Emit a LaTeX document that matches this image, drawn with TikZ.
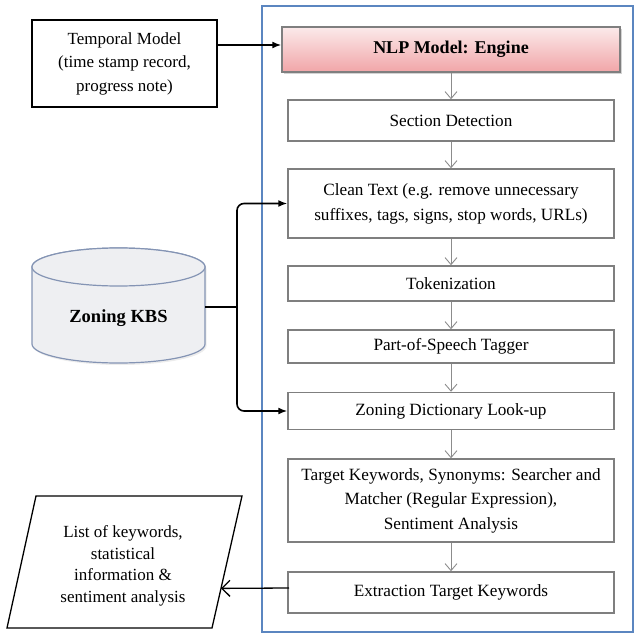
\documentclass[tikz,border=0pt]{standalone}
\usepackage{fontspec}
\setmainfont{Liberation Serif}
\usetikzlibrary{arrows.meta,shadows,calc}
\definecolor{boxgray}{HTML}{7F7F7F}
\definecolor{arrgray}{HTML}{8C8C8C}
\definecolor{frameblue}{HTML}{5B86C0}
\definecolor{pinktop}{HTML}{FBEAEA}
\definecolor{pinkbot}{HTML}{F1A5A8}
\definecolor{kbsfill}{HTML}{EEEFF2}
\definecolor{kbsdraw}{HTML}{8494B4}
\tikzset{
  stepbox/.style={draw=boxgray, line width=1.5pt, fill=white, minimum width=326pt, align=center, inner sep=2pt,
    font=\fontsize{17.2}{24.5}\selectfont},
  grayarr/.style={draw=arrgray, line width=0.9pt, -{Straight Barb[length=7pt,width=12pt]}},
  blkarr/.style={draw=black, line width=1.6pt, -{Latex[length=9pt,width=7pt]}},
  plain/.style={font=\fontsize{17}{23.5}\selectfont, align=center}
}
\begin{document}
\begin{tikzpicture}[x=1pt,y=-1pt]
\useasboundingbox (0,0) rectangle (635,634);
% outer frame
\draw[frameblue, line width=1.2pt] (262,6) rectangle (633,632);

% temporal model
\node[draw=black, line width=1.5pt, minimum width=185pt, minimum height=87pt, plain] (temporal) at (124.5,63.5)
  {Temporal Model\\(time stamp record,\\progress note)};

% NLP engine
\node[draw=boxgray, line width=1.5pt, top color=pinktop, bottom color=pinkbot,
  drop shadow={opacity=0.35, shadow xshift=2pt, shadow yshift=-2pt},
  minimum width=338pt, minimum height=45pt, font=\fontsize{18}{22}\selectfont\bfseries] (nlp) at (451,49.5) {NLP Model: Engine};

\node[stepbox, minimum height=41pt] (sec) at (451,120.5) {Section Detection};
\node[stepbox, minimum height=69pt, font=\fontsize{17.2}{25}\selectfont] (clean) at (451,203.5) {Clean Text (e.g. remove unnecessary\\suffixes, tags, signs, stop words, URLs)};
\node[stepbox, minimum height=35pt] (tok) at (451,283.5) {Tokenization};
\node[stepbox, minimum height=33pt] (pos) at (451,346.5) {Part-of-Speech Tagger};
\node[stepbox, minimum height=37pt] (zdict) at (451,411) {Zoning Dictionary Look-up};
\node[stepbox, minimum height=83pt] (target) at (451,500.5) {Target Keywords, Synonyms: Searcher and\\Matcher (Regular Expression),\\Sentiment Analysis};
\node[stepbox, minimum height=41pt] (extr) at (451,592.5) {Extraction Target Keywords};

\draw[grayarr] (nlp.south) -- (sec.north);
\draw[grayarr] (sec.south) -- (clean.north);
\draw[grayarr] (clean.south) -- (tok.north);
\draw[grayarr] (tok.south) -- (pos.north);
\draw[grayarr] (pos.south) -- (zdict.north);
\draw[grayarr] (zdict.south) -- (target.north);
\draw[grayarr] (target.south) -- (extr.north);

% temporal -> nlp
\coordinate (tmpa) at (217,45);
\draw[blkarr] (tmpa) -- (nlp.west |- tmpa);

% Zoning KBS cylinder
\filldraw[fill=kbsfill, draw=kbsdraw, line width=1.2pt,
  drop shadow={opacity=0.15, shadow xshift=1.5pt, shadow yshift=-2pt}]
  (32,267) -- (32,344) arc[start angle=180,end angle=0,x radius=86.5,y radius=19]
  -- (205,267) arc[start angle=0,end angle=-180,x radius=86.5,y radius=19] -- cycle;
\draw[draw=kbsdraw, line width=1.2pt, fill=kbsfill] (118.5,267) ellipse[x radius=86.5, y radius=19];
\node[font=\fontsize{18.5}{22}\selectfont\bfseries] (kbs) at (118.5,318) {Zoning KBS};
\coordinate (kbsR) at (205,307);
\coordinate (jx) at (237,307);
\draw[black, line width=1.6pt] (kbsR) -- (jx);
\draw[blkarr, rounded corners=7pt] (jx) |- (clean.west);
\draw[blkarr, rounded corners=7pt] (jx) |- (zdict.west);

% output parallelogram
\coordinate (ptl) at (36,496);
\coordinate (ptr) at (242,496);
\coordinate (pbr) at (212,628);
\coordinate (pbl) at (7,628);
\draw[black, line width=1.3pt, fill=white] (ptl) -- (ptr) -- (pbr) -- (pbl) -- cycle;
\node[font=\fontsize{17}{21.5}\selectfont, align=center] (out) at (123,566)
  {List of keywords,\\statistical\\information \&\\sentiment analysis};
\coordinate (outR) at ($(ptr)!0.7!(pbr)$);
\coordinate (exa) at (289,588);
\draw[black, line width=1.3pt, -{Straight Barb[length=8pt,width=16pt]}] (exa) -- (outR);
\end{tikzpicture}
\end{document}
